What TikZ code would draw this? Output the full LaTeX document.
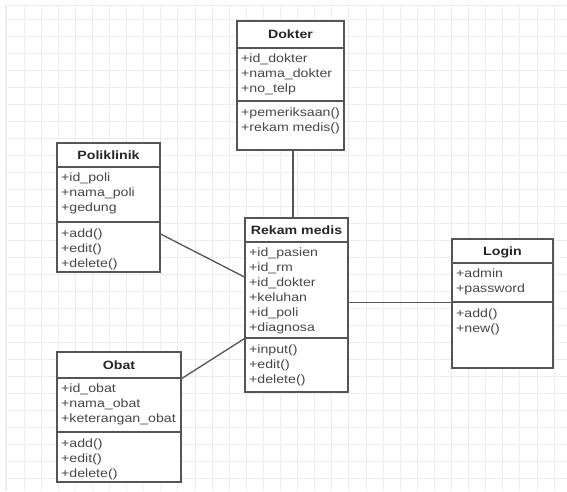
\documentclass[tikz,border=0pt]{standalone}
\usepackage{fontspec}
\setmainfont[FakeStretch=1.18]{Liberation Sans}
\usetikzlibrary{fit}
\definecolor{linec}{HTML}{555555}
\definecolor{gridc}{HTML}{EDEDED}
\tikzset{
  box/.style={draw=linec, line width=1.2pt, fill=white, inner sep=0pt},
  ttl/.style={anchor=base, inner sep=0pt, font=\fontsize{12}{14}\selectfont\bfseries, text=black!85},
  mem/.style={anchor=base west, inner sep=0pt, font=\fontsize{12}{14}\selectfont, text=black!72},
  conn/.style={draw=linec, line width=1.3pt},
  gridline/.style={draw=gridc, line width=1pt}
}
% #1 id, #2 x1, #3 x2, #4 title top, #5 attr top, #6 meth top, #7 bottom, #8 title, #9 attrs, then methods
\newcommand\umlclass[9]{%
  \node[box, fit={(#2,#4) (#3,#5)}] (#1T) {};
  \node[ttl] (#1Tt) at ([yshift=-4.3pt]#1T.center) {#8};
  \node[box, fit={(#2,#5) (#3,#6)}] (#1A) {};
  \node[box, fit={(#2,#6) (#3,#7)}] (#1M) {};
  \foreach \t [count=\i] in {#9} \node[mem] (#1a\i) at (#2+4, #5+14.5+15*\i-15) {\t};
  \umlmethods{#1}{#2}{#6}%
}
\newcommand\umlmethods[4]{%
  \foreach \t [count=\i] in {#4} \node[mem] (#1m\i) at (#2+4, #3+15+15*\i-15) {\t};
}
\begin{document}
\begin{tikzpicture}[x=1pt,y=-1pt]
  \useasboundingbox (0,0) rectangle (567,491);
  \fill[white] (0,0) rectangle (567,491);
  % background grid
  \foreach \k in {0,...,32} \draw[gridline] ({6.9+17.1*\k},5) -- ({6.9+17.1*\k},491);
  \foreach \k in {0,...,27} \draw[gridline] (5,{19+17*\k}) -- (567,{19+17*\k});
  \draw[gridline] (5,5) -- (567,5);
  \draw[gridline] (5,5) -- (5,491);

  \umlclass{dok}{237}{344}{21}{48}{101}{150}{Dokter}{+id\_dokter,+nama\_dokter,+no\_telp}{+pemeriksaan(),+rekam medis()}
  \umlclass{poli}{57}{160}{143}{167}{222}{272}{Poliklinik}{+id\_poli,+nama\_poli,+gedung}{+add(),+edit(),+delete()}
  \umlclass{rek}{245}{348}{218}{242}{338}{392}{Rekam medis}{+id\_pasien,+id\_rm,+id\_dokter,+keluhan,+id\_poli,+diagnosa}{+input(),+edit(),+delete()}
  \umlclass{log}{452}{553}{239}{263}{302}{368}{Login}{+admin,+password}{+add(),+new()}
  \umlclass{obat}{57}{181}{352}{378}{432}{482}{Obat}{+id\_obat,+nama\_obat,+keterangan\_obat}{+add(),+edit(),+delete()}

  % connectors
  \draw[conn] ([xshift=2.5pt]dokM.south) -- ([xshift=-3.5pt]rekT.north);
  \draw[conn] ([yshift=13pt]poliM.east) -- ([yshift=13pt]rekA.west);
  \draw[conn] (obatT.south east) -- (rekA.south west);
  \draw[conn] (rekA.east |- logA.south west) -- (logA.south west);
\end{tikzpicture}
\end{document}
